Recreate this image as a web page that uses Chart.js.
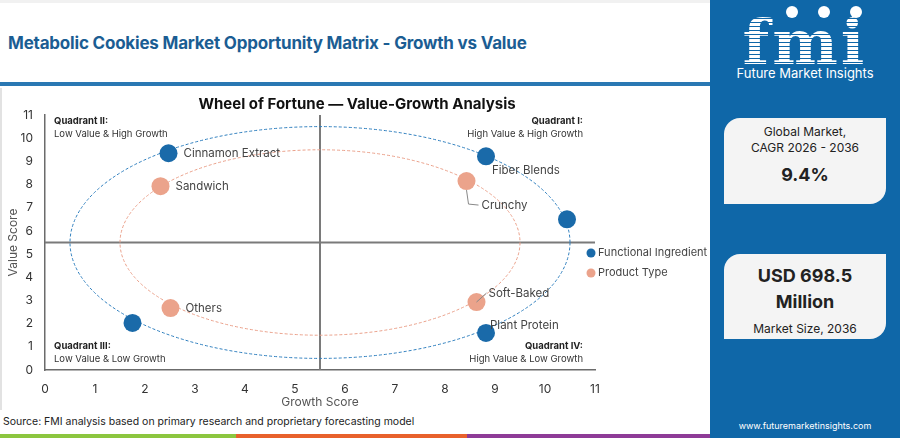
<!DOCTYPE html>
<html>
<head>
<meta charset="utf-8">
<script src="https://cdn.jsdelivr.net/npm/chart.js@4.4.1/dist/chart.umd.min.js"></script>
<style>
  body { margin: 0; width: 900px; height: 438px; overflow: hidden; background: #fff; font-family: Inter, "Open Sans", sans-serif; position: relative; }
  #topStrip { position: absolute; left: 0; top: 0; width: 712px; height: 3px; background: #f1f1f1; }
  #mainTitle { position: absolute; left: 8px; top: 33px; font-size: 17px; font-weight: 700; color: #1b5d93; letter-spacing: -0.2px; }
  #blueRule { position: absolute; left: 0; top: 82px; width: 712px; height: 4px; background: #2a78b3; }
  #chartBox { position: absolute; left: 0; top: 88px; width: 712px; height: 322px; border-left: 2px solid #e2e2e2; box-sizing: border-box; }
  #source { position: absolute; left: 3px; top: 415px; font-size: 10.5px; color: #222; }
  .bar { position: absolute; top: 434px; height: 4px; }
  #side { position: absolute; left: 710px; top: 0; width: 190px; height: 438px; background: #0f67a8; }
  #logo { position: absolute; left: 0; top: 15px; width: 190px; text-align: center; font-family: "DejaVu Serif", serif; font-weight: 700; font-size: 62px; line-height: 56px; height: 50px; overflow: hidden;
          background: repeating-linear-gradient(#fff 0 3px, #0f67a8 3px 4px); -webkit-background-clip: text; background-clip: text; color: transparent; letter-spacing: 3px; }
  .globe { position: absolute; width: 12px; height: 12px; border-radius: 50%; background: #fff; }
  #fmiName { position: absolute; left: 0; top: 65px; width: 190px; text-align: center; color: #fff; font-size: 13px; }
  .card { position: absolute; left: 14px; width: 162px; background: #f4f4f4; border-radius: 16px 0 16px 0; text-align: center; color: #222; }
  .card .small { font-size: 12px; line-height: 16px; }
  .card .big { font-size: 18px; font-weight: 700; line-height: 26px; }
  #url { position: absolute; left: 0; top: 420px; width: 190px; text-align: center; color: #fff; font-size: 9px; }
</style>
</head>
<body>
<div id="topStrip"></div>
<div id="mainTitle">Metabolic Cookies Market Opportunity Matrix - Growth vs Value</div>
<div id="blueRule"></div>
<div id="chartBox"><canvas id="matrixChart"></canvas></div>
<div id="source">Source: FMI analysis based on primary research and proprietary forecasting model</div>
<div class="bar" style="left:0;width:236px;background:#8cc63f"></div>
<div class="bar" style="left:236px;width:231px;background:#e8612c"></div>
<div class="bar" style="left:467px;width:243px;background:#8e3b97"></div>

<div id="side">
  <div id="logo">fmi</div>
  <div class="globe" style="left:76px;top:6px"></div>
  <div class="globe" style="left:108px;top:6px"></div>
  <div class="globe" style="left:140px;top:6px"></div>
  <div id="fmiName">Future Market Insights</div>
  <div class="card" style="top:118px;height:86px">
    <div class="small" style="margin-top:6px">Global Market,</div>
    <div class="small">CAGR 2026 - 2036</div>
    <div class="big" style="margin-top:6px">9.4%</div>
  </div>
  <div class="card" style="top:254px;height:85px">
    <div class="big" style="margin-top:9px">USD 698.5</div>
    <div class="big">Million</div>
    <div class="small" style="margin-top:6px">Market Size, 2036</div>
  </div>
  <div id="url">www.futuremarketinsights.com</div>
</div>

<script>
// ---- data ----
const seriesNames = ["Functional Ingredient", "Product Type"];

const ingredientNames = ["Cinnamon Extract", "Fiber Blends", null, null, "Plant Protein"];
const ingredientGrowth = [2.47, 8.82, 10.44, 1.75, 8.82];
const ingredientValue = [9.35, 9.22, 6.5, 2.03, 1.6];

const productNames = ["Sandwich", "Crunchy", "Others", "Soft-Baked"];
const productGrowth = [2.31, 8.43, 2.51, 8.63];
const productValue = [7.93, 8.15, 2.67, 2.93];

const axisTicks = [0, 1, 2, 3, 4, 5, 6, 7, 8, 9, 10, 11];
const quadrantSplit = 5.5;
const ringRadius = [5, 4]; // one ring per series, centred on the split

const quadrantText = [
  ["Quadrant II:", "Low Value & High Growth"],
  ["Quadrant I:", "High Value & High Growth"],
  ["Quadrant III:", "Low Value & Low Growth"],
  ["Quadrant IV:", "High Value & Low Growth"],
];

const chartTitle = "Wheel of Fortune \u2014 Value-Growth Analysis";

const blue = "#1a6aa9";
const peach = "#eba38b";

function toPoints(xs, ys) {
  return xs.map((x, i) => ({ x: x, y: ys[i] }));
}

// label placement (pixel offsets from the point), leader = draw a bent line
const labelStyle = {
  "Cinnamon Extract": { dx: 15, dy: 0 },
  "Fiber Blends": { dx: 6, dy: 14 },
  "Plant Protein": { dx: 4, dy: -7 },
  "Sandwich": { dx: 15, dy: 0 },
  "Crunchy": { dx: 15, dy: 24, leader: "down" },
  "Others": { dx: 15, dy: 0 },
  "Soft-Baked": { dx: 12, dy: -9, leader: "up" },
};

//--PLUGINS------------------------------------------------------------------
const matrixDecor = {
  id: "matrixDecor",
  beforeDatasetsDraw(chart) {
    const { ctx, chartArea, scales } = chart;
    const cx = scales.x.getPixelForValue(quadrantSplit);
    const cy = scales.y.getPixelForValue(quadrantSplit);

    // quadrant split lines
    ctx.save();
    ctx.strokeStyle = "#7a7a7a";
    ctx.lineWidth = 2;
    ctx.beginPath();
    ctx.moveTo(cx, chartArea.top);
    ctx.lineTo(cx, chartArea.bottom);
    ctx.moveTo(chartArea.left, cy);
    ctx.lineTo(chartArea.right, cy);
    ctx.stroke();

    // dashed rings
    [blue, peach].forEach((col, i) => {
      const rx = scales.x.getPixelForValue(quadrantSplit + ringRadius[i]) - cx;
      const ry = cy - scales.y.getPixelForValue(quadrantSplit + ringRadius[i]);
      ctx.strokeStyle = i === 0 ? "#2f7fbe" : "#eaa08a";
      ctx.lineWidth = 1;
      ctx.setLineDash([3, 2]);
      ctx.beginPath();
      ctx.ellipse(cx, cy, rx, ry, 0, 0, Math.PI * 2);
      ctx.stroke();
    });
    ctx.setLineDash([]);

    // quadrant captions
    const lx = chartArea.left + 9;
    const rx = chartArea.right - 12;
    const rows = [
      [lx, "left", chartArea.top + 6],
      [rx, "right", chartArea.top + 6],
      [lx, "left", chartArea.bottom - 24],
      [rx, "right", chartArea.bottom - 24],
    ];
    ctx.textBaseline = "middle";
    rows.forEach((r, i) => {
      ctx.textAlign = r[1];
      ctx.fillStyle = "#222";
      ctx.font = "700 9.5px Inter";
      ctx.fillText(quadrantText[i][0], r[0], r[2]);
      ctx.font = "400 9.5px Inter";
      ctx.fillStyle = "#333";
      ctx.fillText(quadrantText[i][1], r[0], r[2] + 13);
    });
    ctx.restore();
  },
  afterDatasetsDraw(chart) {
    const { ctx, chartArea } = chart;
    ctx.save();
    ctx.font = "400 11.5px Inter";
    ctx.fillStyle = "#444";
    ctx.textAlign = "left";
    ctx.textBaseline = "middle";
    const namesBySet = [ingredientNames, productNames];
    chart.data.datasets.forEach((ds, di) => {
      const meta = chart.getDatasetMeta(di);
      meta.data.forEach((pt, i) => {
        const name = namesBySet[di][i];
        if (!name) return;
        const st = labelStyle[name];
        const tx = pt.x + st.dx;
        const ty = pt.y + st.dy;
        if (st.leader) {
          ctx.strokeStyle = "#888";
          ctx.lineWidth = 1;
          ctx.beginPath();
          if (st.leader === "down") {
            ctx.moveTo(pt.x, pt.y + 9);
            ctx.lineTo(pt.x + 2, ty - 1);
            ctx.lineTo(tx - 3, ty);
          } else {
            ctx.moveTo(pt.x, pt.y);
            ctx.lineTo(tx - 2, ty);
          }
          ctx.stroke();
        }
        ctx.fillText(name, tx, ty);
      });
    });

    // legend
    const legX = chartArea.right - 4;
    seriesNames.forEach((n, i) => {
      const y = chartArea.top + 138 + i * 20;
      ctx.fillStyle = i === 0 ? blue : peach;
      ctx.beginPath();
      ctx.arc(legX, y, 4.5, 0, Math.PI * 2);
      ctx.fill();
      ctx.fillStyle = "#444";
      ctx.font = "400 11px Inter";
      ctx.fillText(n, legX + 7, y);
    });

    // title, centred over the whole canvas
    ctx.fillStyle = "#111";
    ctx.font = "700 15px Inter";
    ctx.textAlign = "center";
    ctx.fillText(chartTitle, chart.width / 2, 16);
    ctx.restore();
  },
};

//--CHART--------------------------------------------------------------------
function drawMatrix() {
  const ctx = document.getElementById("matrixChart").getContext("2d");
  new Chart(ctx, {
    type: "scatter",
    data: {
      datasets: [
        {
          label: seriesNames[0],
          data: toPoints(ingredientGrowth, ingredientValue),
          backgroundColor: blue,
          pointRadius: 9,
          pointHoverRadius: 9,
          borderWidth: 0,
        },
        {
          label: seriesNames[1],
          data: toPoints(productGrowth, productValue),
          backgroundColor: peach,
          pointRadius: 9,
          pointHoverRadius: 9,
          borderWidth: 0,
        },
      ],
    },
    options: {
      responsive: true,
      maintainAspectRatio: false,
      animation: false,
      layout: { padding: { left: 0, right: 117, top: 27, bottom: 0 } },
      plugins: {
        legend: { display: false },
        tooltip: { enabled: false },
        title: { display: false },
      },
      scales: {
        x: {
          type: "linear",
          min: axisTicks[0],
          max: axisTicks[axisTicks.length - 1],
          afterBuildTicks: (s) => { s.ticks = axisTicks.map((v) => ({ value: v })); },
          afterFit: (s) => { s.height = 40; },
          grid: { display: false, drawTicks: false },
          border: { display: true, color: "#6b6b6b", width: 1.5 },
          ticks: { color: "#333", font: { family: "Inter", size: 12 }, padding: 12 },
          title: { display: true, text: "Growth Score", color: "#555", font: { family: "Inter", size: 12 }, padding: { top: 0, bottom: 0 } },
        },
        y: {
          type: "linear",
          min: axisTicks[0],
          max: axisTicks[axisTicks.length - 1],
          afterBuildTicks: (s) => { s.ticks = axisTicks.map((v) => ({ value: v })); },
          afterFit: (s) => { s.width = 43; },
          grid: { display: false, drawTicks: false },
          border: { display: true, color: "#6b6b6b", width: 1.5 },
          ticks: { color: "#333", font: { family: "Inter", size: 12 }, padding: 12 },
          title: { display: true, text: "Value Score", color: "#555", font: { family: "Inter", size: 12 }, padding: { top: 4, bottom: 0 } },
        },
      },
    },
    plugins: [matrixDecor],
  });
}

drawMatrix();
</script>
</body>
</html>
